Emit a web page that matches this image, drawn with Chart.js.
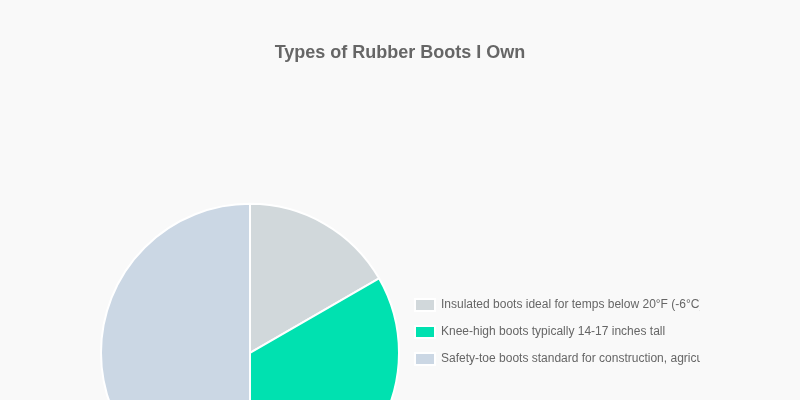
<!DOCTYPE html>
<html>
<head>
<meta charset="utf-8">
<script src="https://cdn.jsdelivr.net/npm/chart.js@4.4.0/dist/chart.umd.min.js"></script>
<style>
  html, body { margin: 0; padding: 0; background: #f9f9f9; }
  #wrap { width: 800px; height: 660px; position: relative; }
</style>
</head>
<body>
<div id="wrap"><canvas id="bootsChart"></canvas></div>
<script>
// boot types and how many pairs of each
const bootLabels = [
    'Insulated boots ideal for temps below 20°F (-6°C)',
    'Knee-high boots typically 14-17 inches tall',
    'Safety-toe boots standard for construction, agriculture'
];
const bootCounts = [1, 2, 3];
const bootColors = ['#d1d8db', '#00e1b0', '#cbd7e4'];

const ctx = document.getElementById('bootsChart').getContext('2d');
new Chart(ctx, {
    type: 'pie',
    data: {
        labels: bootLabels,
        datasets: [{
            data: bootCounts,
            backgroundColor: bootColors,
            borderColor: '#ffffff',
            borderWidth: 2
        }]
    },
    options: {
        responsive: true,
        maintainAspectRatio: false,
        animation: false,
        layout: { padding: { top: 32, bottom: 28, left: 100, right: 100 } },
        plugins: {
            title: {
                display: true,
                text: 'Types of Rubber Boots I Own',
                color: '#666666',
                font: { family: 'Liberation Sans, Arial, sans-serif', size: 18, weight: 'bold' },
                padding: { top: 10, bottom: 10 }
            },
            legend: {
                position: 'right',
                labels: {
                    boxWidth: 20,
                    boxHeight: 12,
                    padding: 15,
                    color: '#666666',
                    font: { family: 'Liberation Sans, Arial, sans-serif', size: 12 }
                }
            },
            tooltip: { enabled: false }
        }
    }
});
</script>
</body>
</html>
